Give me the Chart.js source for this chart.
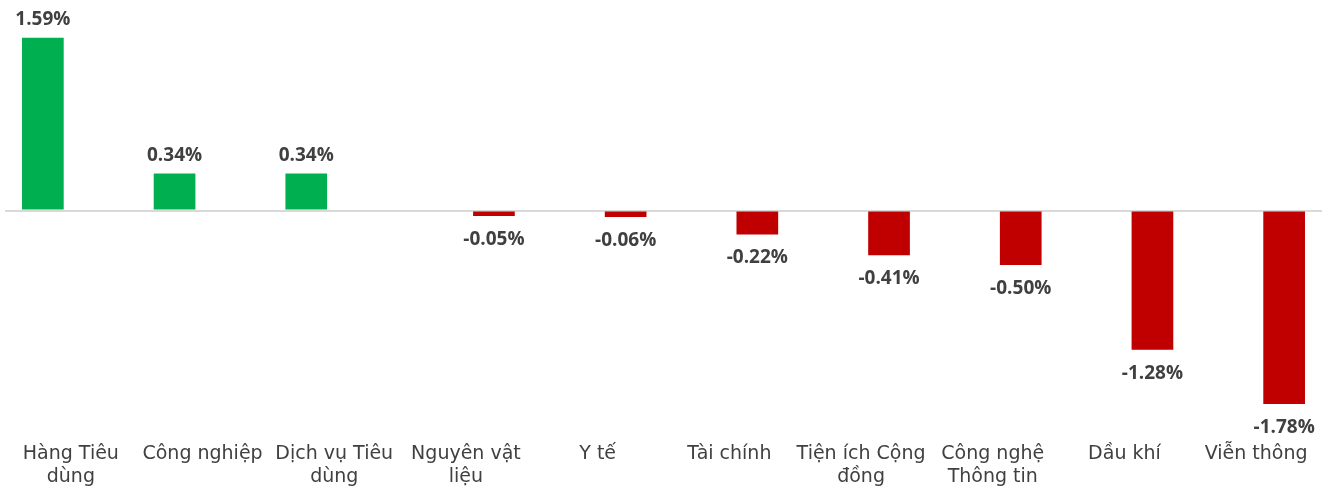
<!DOCTYPE html>
<html>
<head>
<meta charset="utf-8">
<script src="https://cdn.jsdelivr.net/npm/chart.js@4.4.1/dist/chart.umd.min.js"></script>
<style>
  html, body { margin: 0; padding: 0; background: #fff; }
  #wrap { width: 1328px; height: 487px; }
</style>
</head>
<body>
<div id="wrap"><canvas id="sectorChart" width="1328" height="487"></canvas></div>
<script>
// sector names (multi-line labels as in the source)
const sectors = [
    ['Hàng Tiêu', 'dùng'],
    'Công nghiệp',
    ['Dịch vụ Tiêu', 'dùng'],
    ['Nguyên vật', 'liệu'],
    'Y tế',
    'Tài chính',
    ['Tiện ích Cộng', 'đồng'],
    ['Công nghệ', 'Thông tin'],
    'Dầu khí',
    'Viễn thông'
];
// % change, split into gainers / losers like the original two series
const gainers = [1.59, 0.34, 0.34, null, null, null, null, null, null, null];
const losers  = [null, null, null, -0.05, -0.06, -0.22, -0.41, -0.50, -1.28, -1.78];

const textColor = '#404040';

// draws the % value above (or below) each bar
const valueLabels = {
    id: 'valueLabels',
    afterDatasetsDraw(chart) {
        const ctx = chart.ctx;
        ctx.save();
        ctx.font = 'bold 19px "Open Sans"';
        ctx.fillStyle = textColor;
        ctx.textAlign = 'center';
        ctx.textBaseline = 'alphabetic';
        chart.data.datasets.forEach((ds, i) => {
            const meta = chart.getDatasetMeta(i);
            meta.data.forEach((bar, j) => {
                const v = ds.data[j];
                if (v === null || v === undefined) return;
                const txt = v.toFixed(2) + '%';
                const y = v >= 0 ? bar.y - 13 : bar.y + 29;
                ctx.fillText(txt, bar.x, y);
            });
        });
        ctx.restore();
    }
};

const ctx = document.getElementById('sectorChart').getContext('2d');
new Chart(ctx, {
    type: 'bar',
    data: {
        labels: sectors,
        datasets: [
            {
                label: 'Tăng',
                data: gainers,
                backgroundColor: '#00B050',
                categoryPercentage: 0.85,
                barPercentage: 0.745
            },
            {
                label: 'Giảm',
                data: losers,
                backgroundColor: '#C00000',
                categoryPercentage: 0.85,
                barPercentage: 0.745
            }
        ]
    },
    options: {
        responsive: false,
        animation: false,
        layout: {
            padding: { left: 5, right: 6, top: 4, bottom: 0 }
        },
        plugins: {
            legend: { display: false },
            tooltip: { enabled: false }
        },
        scales: {
            x: {
                grid: { display: false, drawTicks: false },
                border: { display: false },
                ticks: {
                    color: textColor,
                    font: { family: '"DejaVu Sans"', size: 19, lineHeight: '23px' },
                    maxRotation: 0,
                    autoSkip: false,
                    padding: 15
                },
                // fixed axis height so the plot area ends where the source's does
                afterFit(scale) { scale.height = 59; }
            },
            y: {
                min: -2.0,
                max: 1.9,
                ticks: { display: false },
                border: { display: false },
                grid: {
                    drawTicks: false,
                    lineWidth: 2,
                    color: c => c.tick.value === 0 ? '#d9d9d9' : 'rgba(0,0,0,0)'
                }
            }
        }
    },
    plugins: [valueLabels]
});
</script>
</body>
</html>
